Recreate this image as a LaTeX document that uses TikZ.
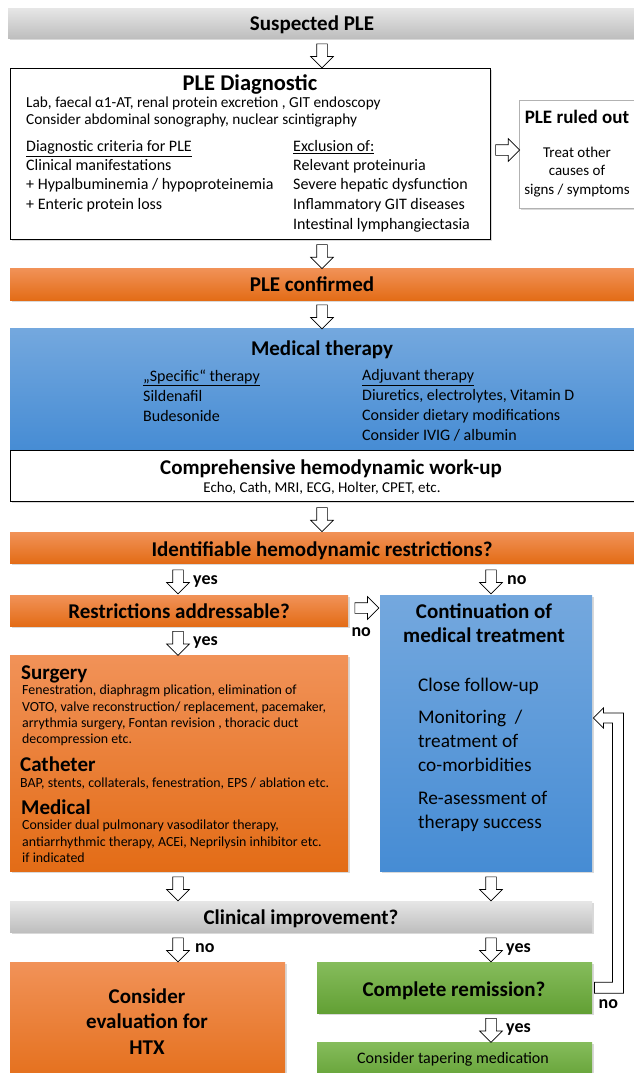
\documentclass[tikz,border=0pt]{standalone}
\usepackage{fontspec}
\setmainfont{Carlito}
\usetikzlibrary{shapes.arrows,shadows,calc}
\definecolor{grT}{RGB}{230,230,230}
\definecolor{grB}{RGB}{190,190,190}
\definecolor{orT}{RGB}{241,146,88}
\definecolor{orB}{RGB}{227,108,22}
\definecolor{blT}{RGB}{116,168,222}
\definecolor{blB}{RGB}{70,140,212}
\definecolor{gnT}{RGB}{134,188,92}
\definecolor{gnB}{RGB}{98,160,52}
\newcommand\Ln[6]{\node[inner sep=0pt, anchor=#1, font=\fontsize{#5}{#5}\selectfont] (#2) at (#3,{#4+0.35*#5}) {#6};}
\newcommand\VA[4]{\path let \p1=(#3.south), \p2=(#4.north) in node[barrow, shape border rotate=270] (#1) at (#2pt,{0.5*\y1+0.5*\y2}) {};}
\newcommand\HA[4]{\path let \p1=(#3.east), \p2=(#4.west) in node[barrow] (#1) at ({0.5*\x1+0.5*\x2},-#2pt) {};}
\begin{document}
\begin{tikzpicture}[x=1pt,y=-1pt,
  box/.style={rectangle, inner sep=0pt, anchor=north west},
  shd/.style={drop shadow={shadow xshift=1.5pt, shadow yshift=-1.5pt, opacity=0.3}},
  graybar/.style={box, top color=grT, bottom color=grB, shd},
  orbox/.style={box, top color=orT, bottom color=orB, shd},
  blbox/.style={box, top color=blT, bottom color=blB, shd},
  gnbox/.style={box, top color=gnT, bottom color=gnB, shd},
  whitebox/.style={box, fill=white, draw=black, line width=0.9pt, shd},
  outbox/.style={box, fill=white, draw=gray!60, line width=0.6pt, shd},
  barrow/.style={single arrow, draw=black, fill=white, line width=0.7pt, inner sep=5pt,
    minimum height=24pt, single arrow head extend=6pt, single arrow tip angle=90},
  lbl/.style={inner sep=0pt, anchor=base west, font=\fontsize{18}{18}\selectfont\bfseries}
]
\useasboundingbox (0,0) rectangle (633,1073);

% ---------- Suspected PLE
\node[graybar, minimum width=640pt, minimum height=30pt] (sus) at (8,8) {};
\Ln{base}{sust}{312}{23}{21}{\bfseries Suspected PLE}

% ---------- PLE Diagnostic
\node[whitebox, minimum width=480pt, minimum height=171pt] (diag) at (10,68) {};
\Ln{base}{diagt}{250}{83}{22.5}{\bfseries PLE Diagnostic}
\Ln{base west}{dg1}{26}{102}{15.3}{Lab, faecal α1-AT, renal protein excretion , GIT endoscopy}
\Ln{base west}{dg2}{26}{119}{15.3}{Consider abdominal sonography, nuclear scintigraphy}
\Ln{base west}{dc1}{26}{146}{16}{\underline{Diagnostic criteria for PLE}}
\Ln{base west}{dc2}{26}{165}{16}{Clinical manifestations}
\Ln{base west}{dc3}{26}{184}{16}{+ Hypalbuminemia / hypoproteinemia}
\Ln{base west}{dc4}{26}{204}{16}{+ Enteric protein loss}
\Ln{base west}{de1}{293}{146}{16}{\underline{Exclusion of:}}
\Ln{base west}{de2}{293}{165}{16}{Relevant proteinuria}
\Ln{base west}{de3}{293}{184}{16}{Severe hepatic dysfunction}
\Ln{base west}{de4}{293}{204}{16}{Inflammatory GIT diseases}
\Ln{base west}{de5}{293}{224}{16}{Intestinal lymphangiectasia}

% ---------- PLE ruled out
\node[outbox, minimum width=120pt, minimum height=108pt] (out) at (519,100) {};
\Ln{base}{outt}{577}{117}{19}{\bfseries PLE ruled out}
\Ln{base}{out1}{577}{152}{15}{Treat other}
\Ln{base}{out2}{577}{170}{15}{causes of}
\Ln{base}{out3}{577}{189}{15}{signs / symptoms}

% ---------- PLE confirmed
\node[orbox, minimum width=630pt, minimum height=32pt] (conf) at (10,268) {};
\Ln{base}{conft}{312}{284}{21}{\bfseries PLE confirmed}

% ---------- Medical therapy
\node[blbox, minimum width=630pt, minimum height=122pt] (med) at (10,328) {};
\Ln{base}{medt}{322}{348}{21}{\bfseries Medical therapy}
\Ln{base west}{ms1}{143}{376}{16}{\underline{„Specific“ therapy}}
\Ln{base west}{ms2}{143}{396}{16}{Sildenafil}
\Ln{base west}{ms3}{143}{416}{16}{Budesonide}
\Ln{base west}{ma1}{362}{375}{16}{\underline{Adjuvant therapy}}
\Ln{base west}{ma2}{362}{395}{16}{Diuretics, electrolytes, Vitamin D}
\Ln{base west}{ma3}{362}{415}{16}{Consider dietary modifications}
\Ln{base west}{ma4}{362}{435}{16}{Consider IVIG / albumin}
\node[whitebox, minimum width=630pt, minimum height=51pt] (work) at (10,450) {};
\Ln{base}{workt}{331}{467}{21}{\bfseries Comprehensive hemodynamic work-up}
\Ln{base}{work1}{322}{487}{15}{Echo, Cath, MRI, ECG, Holter, CPET, etc.}

% ---------- Identifiable restrictions
\node[orbox, minimum width=630pt, minimum height=31pt] (ident) at (10,532) {};
\Ln{base}{identt}{322}{549}{21}{\bfseries Identifiable hemodynamic restrictions?}

% ---------- Restrictions addressable
\node[orbox, minimum width=338pt, minimum height=31pt] (addr) at (10,595) {};
\Ln{base}{addrt}{179}{611}{21}{\bfseries Restrictions addressable?}

% ---------- Continuation of medical treatment
\node[blbox, minimum width=212pt, minimum height=276pt] (cont) at (380,595) {};
\Ln{base}{contt1}{484}{611}{21}{\bfseries Continuation of}
\Ln{base}{contt2}{484}{635}{21}{\bfseries medical treatment}
\Ln{base west}{cb1}{418}{685}{19.3}{Close follow-up}
\Ln{base west}{cb2}{418}{717}{19.3}{Monitoring~ /}
\Ln{base west}{cb3}{418}{741}{19.3}{treatment of}
\Ln{base west}{cb4}{418}{765}{19.3}{co-morbidities}
\Ln{base west}{cb5}{418}{798}{19.3}{Re-asessment of}
\Ln{base west}{cb6}{418}{822}{19.3}{therapy success}

% ---------- Surgery / Catheter / Medical
\node[orbox, minimum width=338pt, minimum height=216pt] (surg) at (10,655) {};
\Ln{base west}{sg0}{21}{672}{21}{\bfseries Surgery}
\Ln{base west}{sg1}{22}{690}{13.9}{Fenestration, diaphragm plication, elimination of}
\Ln{base west}{sg2}{22}{707}{13.9}{VOTO, valve reconstruction/ replacement, pacemaker,}
\Ln{base west}{sg3}{22}{723}{13.9}{arrythmia surgery, Fontan revision , thoracic duct}
\Ln{base west}{sg4}{22}{739}{13.9}{decompression etc.}
\Ln{base west}{ct0}{20}{764.5}{21}{\bfseries Catheter}
\Ln{base west}{ct1}{20}{783}{13.9}{BAP, stents, collaterals, fenestration, EPS / ablation etc.}
\Ln{base west}{md0}{21}{807.5}{21}{\bfseries Medical}
\Ln{base west}{md1}{22}{825}{13.9}{Consider dual pulmonary vasodilator therapy,}
\Ln{base west}{md2}{22}{842}{13.9}{antiarrhythmic therapy, ACEi, Neprilysin inhibitor etc.}
\Ln{base west}{md3}{22}{857.5}{13.9}{if indicated}

% ---------- Clinical improvement
\node[graybar, minimum width=582pt, minimum height=31pt] (clin) at (10,901) {};
\Ln{base}{clint}{301}{917}{21}{\bfseries Clinical improvement?}

% ---------- HTX
\node[orbox, minimum width=275pt, minimum height=130pt] (htx) at (10,962) {};
\Ln{base}{htx1}{147}{996}{21}{\bfseries Consider}
\Ln{base}{htx2}{147}{1021}{21}{\bfseries evaluation for}
\Ln{base}{htx3}{147}{1047}{21}{\bfseries HTX}

% ---------- Complete remission / tapering
\node[gnbox, minimum width=275pt, minimum height=51pt] (rem) at (317,962) {};
\Ln{base}{remt}{454}{989}{21}{\bfseries Complete remission?}
\node[gnbox, minimum width=275pt, minimum height=40pt] (taper) at (317,1042) {};
\Ln{base}{tapert}{453}{1058}{16}{Consider tapering medication}

% ---------- block arrows
\VA{a1}{322}{sus}{diag}
\HA{a14}{150}{diag}{out}
\VA{a2}{322}{diag}{conf}
\VA{a3}{322}{conf}{med}
\VA{a4}{322}{work}{ident}
\VA{a5}{178}{ident}{addr}
\VA{a6}{491}{ident}{cont}
\HA{a7}{608}{addr}{cont}
\VA{a8}{178}{addr}{surg}
\VA{a9}{178}{surg}{clin}
\VA{a10}{491}{cont}{clin}
\VA{a11}{178}{clin}{htx}
\VA{a12}{491}{clin}{rem}
\VA{a13}{491}{rem}{taper}

\node[lbl] (l5) at ([xshift=15pt,yshift=-5pt]a5.center) {yes};
\node[lbl] (l6) at ([xshift=16pt,yshift=-5pt]a6.center) {no};
\node[lbl, anchor=base] (l7) at ([xshift=-3pt,yshift=-28pt]a7.center) {no};
\node[lbl] (l8) at ([xshift=15pt,yshift=-5pt]a8.center) {yes};
\node[lbl] (l11) at ([xshift=17pt,yshift=-5pt]a11.center) {no};
\node[lbl] (l12) at ([xshift=15pt,yshift=-5pt]a12.center) {yes};
\node[lbl] (l13) at ([xshift=15pt,yshift=-5pt]a13.center) {yes};

% ---------- feedback arrow
\coordinate (fbin) at (cont.east |- 0,718);
\draw[fill=white, line width=0.8pt, line join=miter] let \p1=(rem.east), \p2=(fbin) in
  (\x1+2pt,\y1+5.5pt) -- (\x1+20pt,\y1+5.5pt) -- (\x1+20pt,\y2-5pt) -- (\x2+11pt,\y2-5pt)
  -- (\x2+11pt,\y2-10pt) -- (\x2+1pt,\y2) -- (\x2+11pt,\y2+10pt) -- (\x2+11pt,\y2+5pt)
  -- (\x1+31pt,\y2+5pt) -- (\x1+31pt,\y1-5.5pt) -- (\x1+2pt,\y1-5.5pt) -- cycle;
\node[lbl, anchor=base] (lfb) at ([xshift=16pt,yshift=-21pt]rem.east) {no};
\end{tikzpicture}
\end{document}
